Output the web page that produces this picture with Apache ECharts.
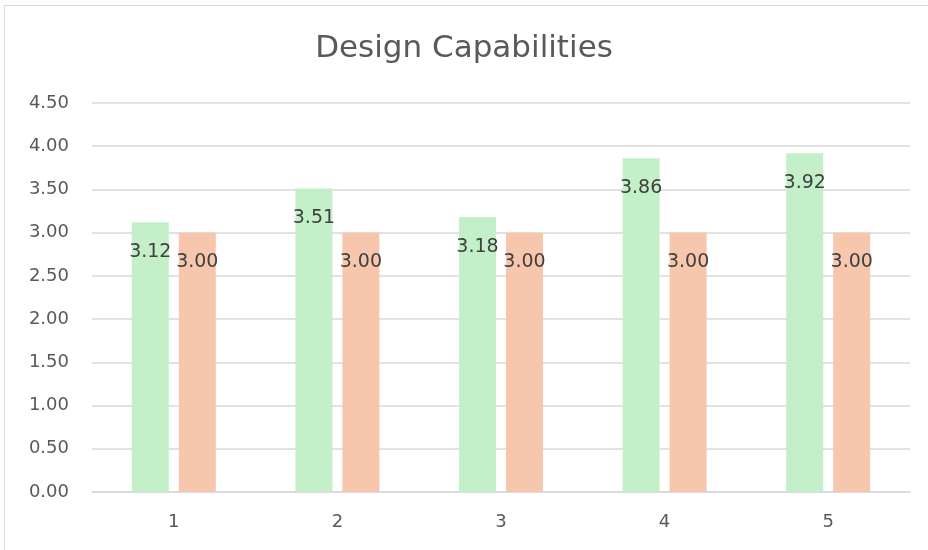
<!DOCTYPE html>
<html>
<head>
<meta charset="utf-8">
<script src="https://cdn.jsdelivr.net/npm/echarts@6/dist/echarts.min.js"></script>
<style>
  html, body { margin: 0; padding: 0; background: #ffffff; }
  #frame { position: absolute; left: 4px; top: 5px; width: 940px; height: 560px; border: 1px solid #d9d9d9; box-sizing: border-box; }
  #chart { position: absolute; left: 0; top: 0; width: 928px; height: 550px; }
</style>
</head>
<body>
<div id="frame"></div>
<div id="chart"></div>
<script>
// Design capability scores per item, against the 3.00 reference level
const categories = ['1', '2', '3', '4', '5'];
const scores = [3.12, 3.51, 3.18, 3.86, 3.92];
const benchmark = [3.00, 3.00, 3.00, 3.00, 3.00];
const yTicks = { min: 0, max: 4.5, step: 0.5 };

const FONT = '"DejaVu Sans", Verdana, sans-serif';

const chart = echarts.init(document.getElementById('chart'), null, { renderer: 'canvas' });

const valueLabel = {
  show: true,
  position: 'insideTop',
  distance: 20,
  color: '#404040',
  fontSize: 19,
  fontFamily: FONT,
  formatter: p => p.value.toFixed(2)
};

chart.setOption({
  backgroundColor: 'transparent',
  animation: false,
  title: {
    text: 'Design Capabilities',
    left: 'center',
    top: 28,
    textStyle: { color: '#595959', fontSize: 31, fontWeight: 'normal', fontFamily: FONT }
  },
  grid: { left: 92, right: 18, top: 103, bottom: 58 },
  xAxis: {
    type: 'category',
    data: categories,
    axisLine: { show: true, lineStyle: { color: '#d9d9d9', width: 1.5 } },
    axisTick: { show: false },
    axisLabel: { color: '#595959', fontSize: 18, margin: 21, fontFamily: FONT }
  },
  yAxis: {
    type: 'value',
    min: yTicks.min,
    max: yTicks.max,
    interval: yTicks.step,
    axisLine: { show: false },
    axisTick: { show: false },
    splitLine: { lineStyle: { color: '#d9d9d9', width: 1.5 } },
    axisLabel: { color: '#595959', fontSize: 18, margin: 23, fontFamily: FONT, formatter: v => v.toFixed(2) }
  },
  series: [
    {
      type: 'bar',
      data: scores,
      barWidth: 37,
      barGap: '27%',
      itemStyle: { color: '#c3f0c8' },
      label: valueLabel
    },
    {
      type: 'bar',
      data: benchmark,
      barWidth: 37,
      itemStyle: { color: '#f6c6ad' },
      label: valueLabel
    }
  ]
});
</script>
</body>
</html>
